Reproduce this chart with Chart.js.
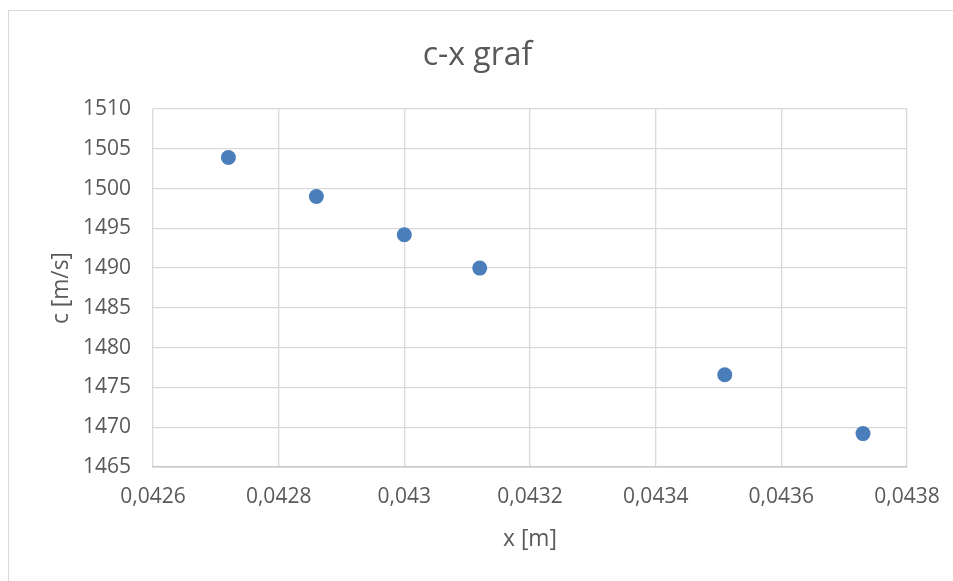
<!DOCTYPE html>
<html>
<head>
<meta charset="utf-8">
<script src="https://cdn.jsdelivr.net/npm/chart.js@4"></script>
<style>
html,body{margin:0;padding:0;background:#fff;overflow:hidden;}
#frame{position:absolute;left:8px;top:10px;width:1000px;height:1000px;border:1.5px solid #d9d9d9;box-sizing:border-box;}
#wrap{position:absolute;left:0;top:0;width:953px;height:581px;}
</style>
</head>
<body>
<div id="frame"></div>
<div id="wrap"><canvas id="c" width="953" height="581"></canvas></div>
<script>
const xValues = [0.04272, 0.04286, 0.04300, 0.04312, 0.04351, 0.04373];
const cValues = [1503.9, 1499.0, 1494.2, 1490.0, 1476.6, 1469.2];
const xTicks = [0.0426, 0.0428, 0.0430, 0.0432, 0.0434, 0.0436, 0.0438];
const yTicks = [1465, 1470, 1475, 1480, 1485, 1490, 1495, 1500, 1505, 1510];

const FONT = "'Open Sans', 'Noto Sans', sans-serif";
const TXT = '#595959';
const GRID = '#d9d9d9';

new Chart(document.getElementById('c'), {
  type: 'scatter',
  data: {
    datasets: [{
      data: xValues.map((x, i) => ({x: x, y: cValues[i]})),
      backgroundColor: '#4a7ebb',
      borderColor: '#4a7ebb',
      pointRadius: 7.5,
      pointHoverRadius: 7.5,
      borderWidth: 0
    }]
  },
  options: {
    responsive: false,
    animation: false,
    devicePixelRatio: 1,
    layout: {padding: {left: 48, right: 46, top: 0, bottom: 28.3}},
    plugins: {
      legend: {display: false},
      tooltip: {enabled: false},
      title: {
        display: true,
        text: 'c-x graf',
        color: TXT,
        font: {family: FONT, size: 32, weight: 'normal', lineHeight: 1.2},
        padding: {top: 37, bottom: 33.6}
      }
    },
    scales: {
      x: {
        type: 'linear',
        min: xTicks[0],
        max: xTicks[xTicks.length - 1],
        afterBuildTicks: s => { s.ticks = xTicks.map(v => ({value: v})); },
        afterFit: s => { s.height = 85.7; s.paddingRight = 0; s.paddingLeft = 0; },
        ticks: {
          color: TXT,
          padding: 17,
          maxRotation: 0,
          font: {family: FONT, size: 21},
          callback: v => String(+v.toFixed(6)).replace('.', ',')
        },
        grid: {color: GRID, lineWidth: 1.3, drawTicks: false},
        border: {color: '#c8c8c8', width: 1.5},
        title: {
          display: true,
          text: 'x [m]',
          color: TXT,
          padding: 0,
          font: {family: FONT, size: 22.8, lineHeight: 1.2}
        }
      },
      y: {
        type: 'linear',
        min: yTicks[0],
        max: yTicks[yTicks.length - 1],
        afterBuildTicks: s => { s.ticks = yTicks.map(v => ({value: v})); },
        afterFit: s => { s.width = 105; },
        ticks: {
          color: TXT,
          padding: 22,
          font: {family: FONT, size: 21},
          callback: v => String(v)
        },
        grid: {color: GRID, lineWidth: 1.3, drawTicks: false},
        border: {display: false},
        title: {
          display: true,
          text: 'c [m/s]',
          color: TXT,
          padding: 0,
          font: {family: FONT, size: 22.8, lineHeight: 1.2}
        }
      }
    }
  }
});
</script>
</body>
</html>
